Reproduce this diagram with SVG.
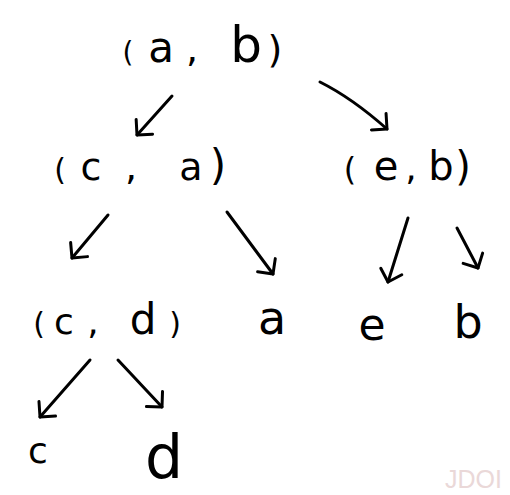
<svg xmlns="http://www.w3.org/2000/svg" width="510" height="495" viewBox="0 0 510 495">
<style>
  .t { font-family: "DejaVu Sans", "Liberation Sans", sans-serif; fill: #000; text-anchor: middle; }
  .e { fill: none; stroke: #000; stroke-width: 3; stroke-linecap: round; stroke-linejoin: round; }
  .wm { font-family: "Liberation Sans", Arial, sans-serif; font-size: 25px; fill: #ead8d8; }
</style>
<defs>
  <marker id="ah" viewBox="-14 -13 17 26" refX="0" refY="0" markerWidth="17" markerHeight="26" markerUnits="userSpaceOnUse" orient="auto">
    <path d="M-11,-11 L0,0 L-11,11" fill="none" stroke="#000" stroke-width="3" stroke-linecap="round" stroke-linejoin="round"/>
  </marker>
</defs>
<rect width="510" height="495" fill="#fff"/>
<g id="connectors">
  <path class="e" d="M172,96 L137,135" marker-end="url(#ah)"/>
  <path class="e" d="M320,82 Q352,98 387,129" marker-end="url(#ah)"/>
  <path class="e" d="M108,215 L72,258" marker-end="url(#ah)"/>
  <path class="e" d="M227,212 L273,274" marker-end="url(#ah)"/>
  <path class="e" d="M408,218 L388,282" marker-end="url(#ah)"/>
  <path class="e" d="M457,228 L478,268" marker-end="url(#ah)"/>
  <path class="e" d="M90,360 L40,417" marker-end="url(#ah)"/>
  <path class="e" d="M118,360 L162,407" marker-end="url(#ah)"/>
</g>
<g id="n_ab">
  <text class="t" y="62" font-size="38"><tspan x="128" font-size="28">(</tspan><tspan x="161" font-size="42">a</tspan><tspan x="192">,</tspan><tspan x="246" font-size="50">b</tspan><tspan x="275">)</tspan></text>
</g>
<g id="n_ca">
  <text class="t" y="180" font-size="38"><tspan x="60" font-size="30">(</tspan><tspan x="91">c</tspan><tspan x="131">,</tspan><tspan x="191">a</tspan><tspan x="218" font-size="42">)</tspan></text>
</g>
<g id="n_eb">
  <text class="t" y="180" font-size="40"><tspan x="350" font-size="32">(</tspan><tspan x="386">e</tspan><tspan x="411" font-size="36">,</tspan><tspan x="441">b</tspan><tspan x="463">)</tspan></text>
</g>
<g id="n_cd">
  <text class="t" y="334" font-size="36"><tspan x="39" font-size="30">(</tspan><tspan x="64">c</tspan><tspan x="93">,</tspan><tspan x="143" font-size="42">d</tspan><tspan x="175" font-size="30">)</tspan></text>
</g>
<g id="n_a"><text class="t" x="272" y="334" font-size="46">a</text></g>
<g id="n_e"><text class="t" x="372" y="340" font-size="44">e</text></g>
<g id="n_b"><text class="t" x="468" y="338" font-size="46">b</text></g>
<g id="n_c"><text class="t" x="38" y="463" font-size="36">c</text></g>
<g id="n_d"><text class="t" x="164" y="478" font-size="60">d</text></g>
<text class="wm" x="445" y="488">JDOI</text>
</svg>
